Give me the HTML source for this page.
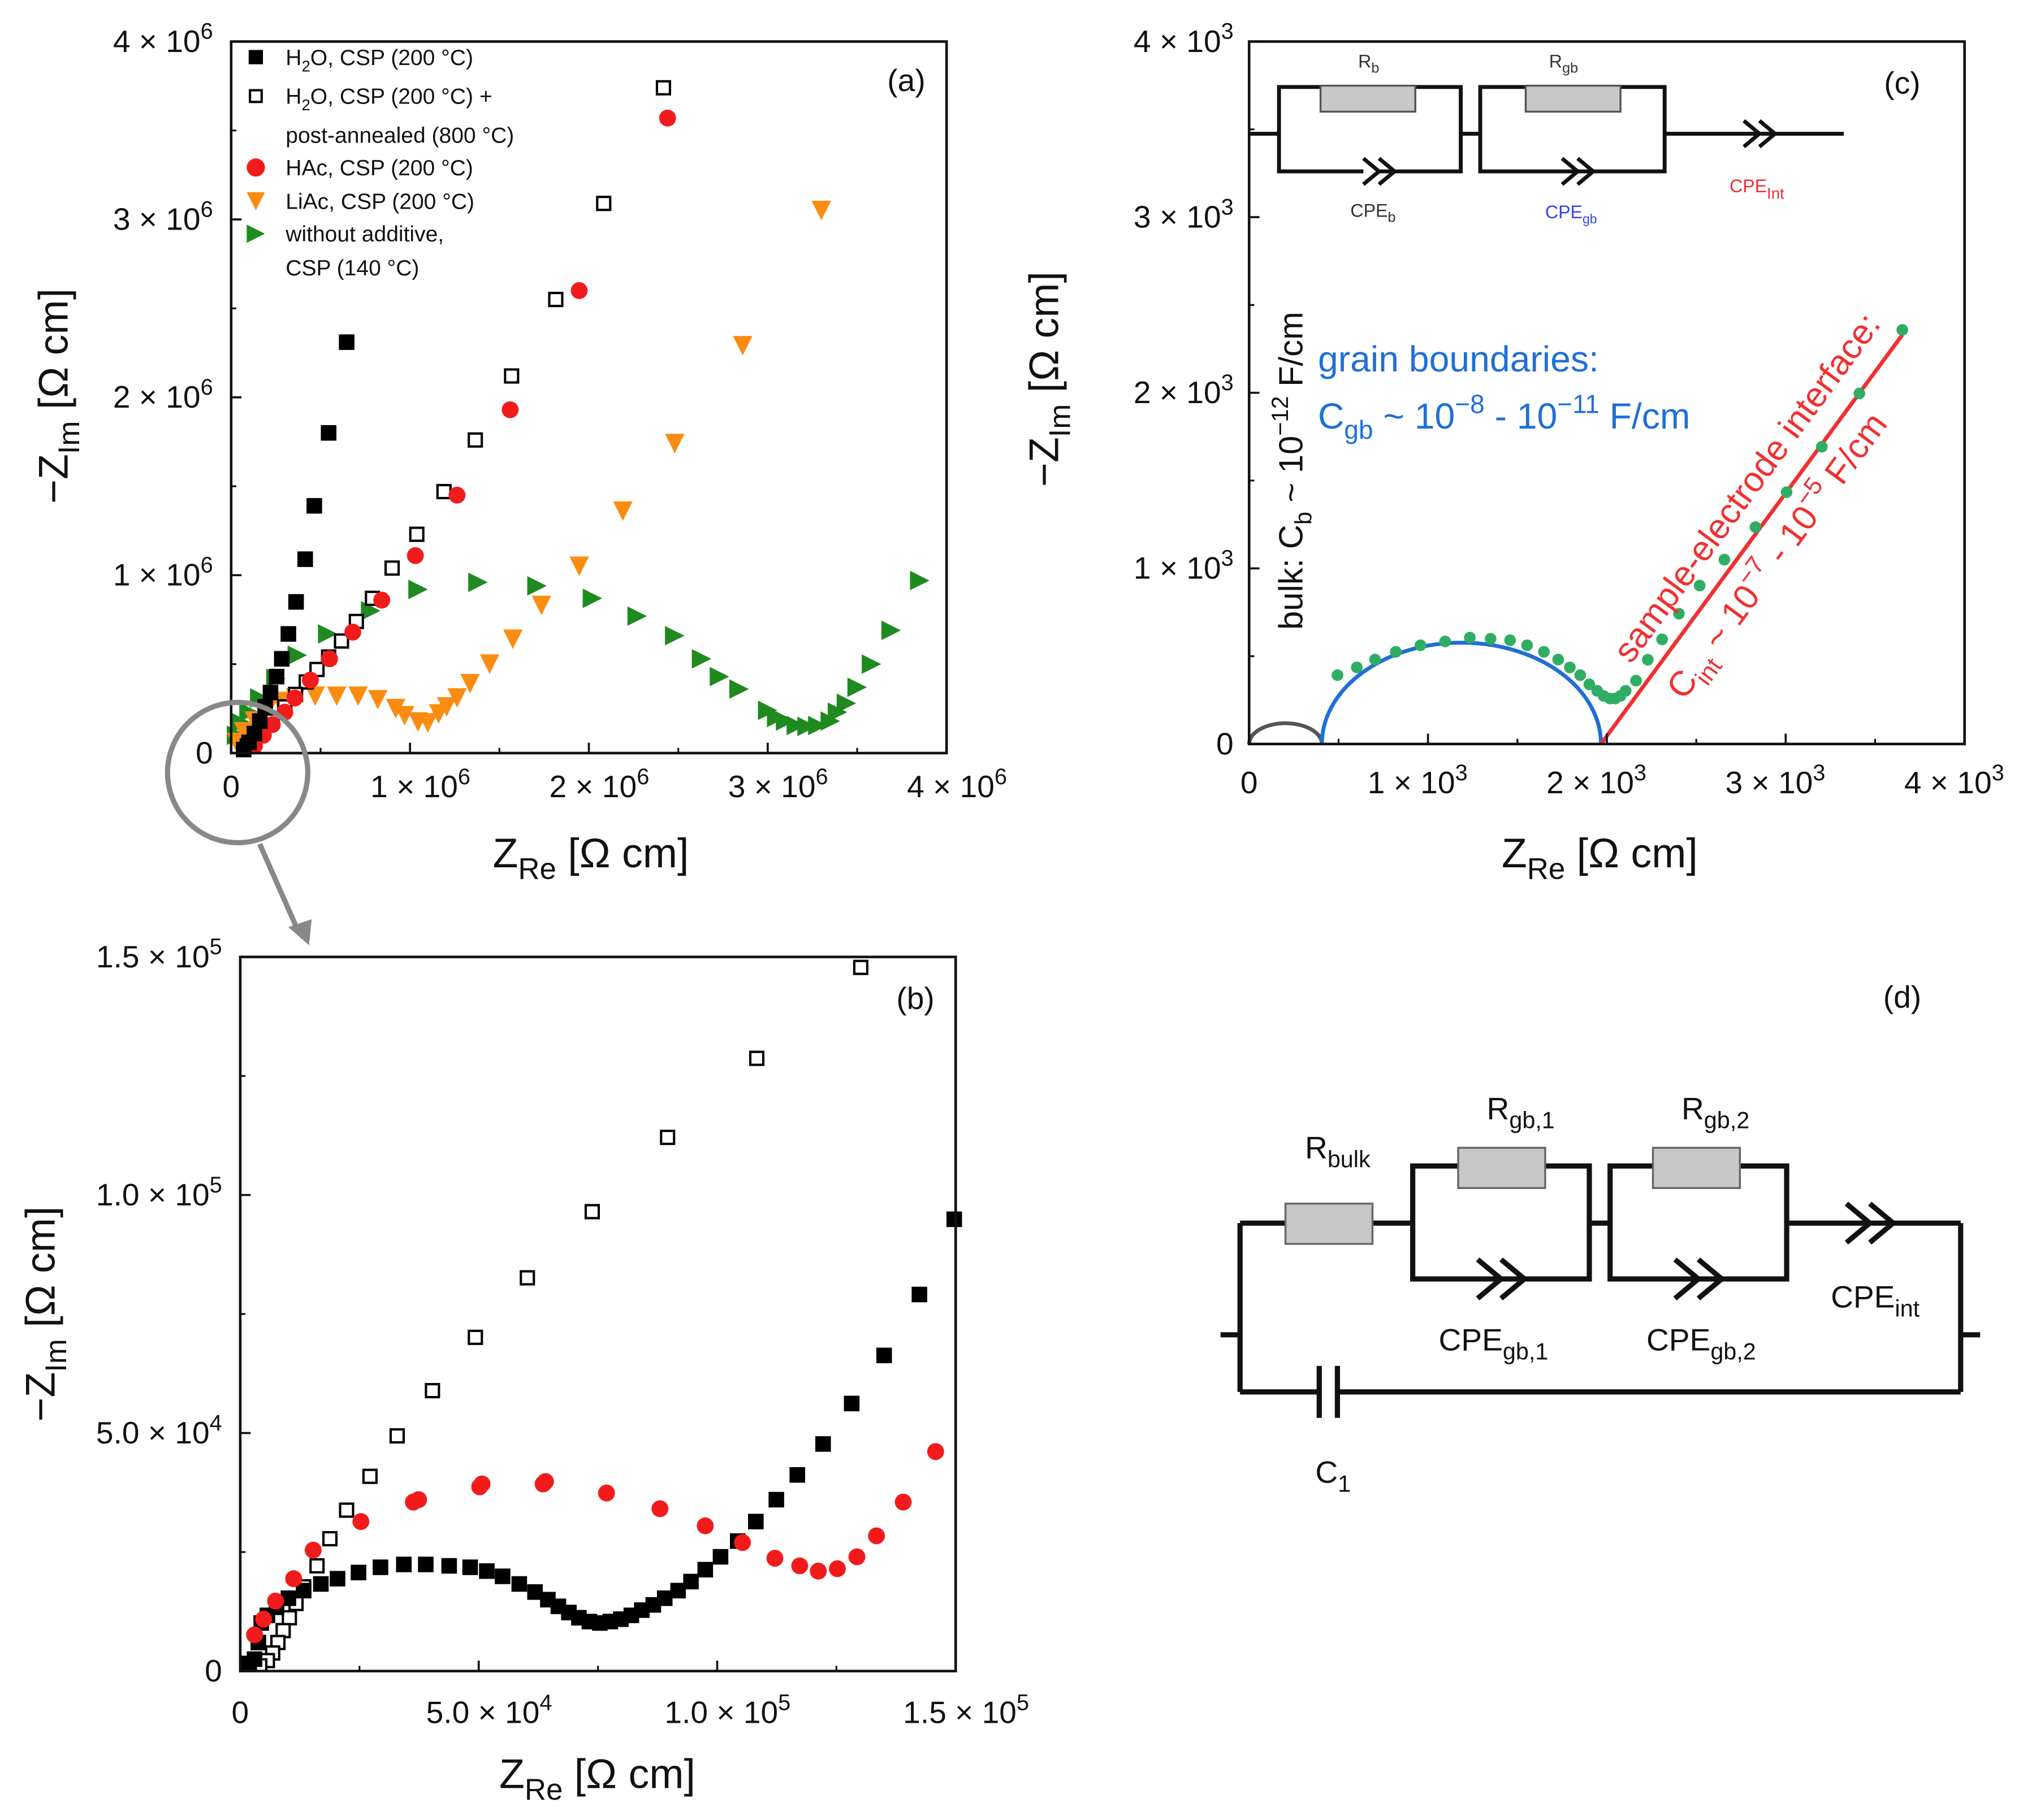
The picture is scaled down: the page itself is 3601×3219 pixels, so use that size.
<!DOCTYPE html>
<html><head><meta charset="utf-8"><style>
html,body{margin:0;padding:0;background:#fff;}
svg{display:block;font-family:"Liberation Sans",Arial,sans-serif;}
</style></head><body>
<svg id="fig" xmlns="http://www.w3.org/2000/svg" width="3601" height="3219" viewBox="0 0 1568 1401.7">
<rect width="1568" height="1401.7" fill="#fff"/>
<g id="root"></g>
</svg>
<script>
// ---------- Panel (a) data (units of 1e6 Ohm cm) ----------
const aH2OX=[0.646,0.545,0.465,0.414,0.363,0.32,0.283,0.254,0.22,0.19,0.16,0.13,0.10,0.07];
const aH2OY=[2.31,1.80,1.39,1.09,0.85,0.67,0.53,0.43,0.34,0.26,0.18,0.11,0.06,0.02];
const aAnnX=[2.417,2.083,1.815,1.568,1.365,1.19,1.038,0.90,0.79,0.70,0.617,0.545,0.48,0.42,0.36,0.30,0.23,0.16,0.09];
const aAnnY=[3.74,3.09,2.55,2.12,1.76,1.47,1.23,1.04,0.87,0.74,0.63,0.54,0.47,0.40,0.33,0.26,0.18,0.10,0.04];
const aHAcX=[2.44,1.946,1.56,1.263,1.03,0.842,0.68,0.55,0.443,0.356,0.30,0.23,0.18,0.13];
const aHAcY=[3.57,2.60,1.93,1.45,1.11,0.86,0.68,0.53,0.41,0.31,0.23,0.16,0.10,0.04];
const aLiAcX=[3.30,2.86,2.48,2.19,1.946,1.735,1.575,1.445,1.336,1.263,1.205,1.16,1.10,1.045,0.97,0.92,0.82,0.71,0.59,0.47,0.36,0.27,0.20,0.13,0.07,0.03];
const aLiAcY=[3.05,2.29,1.74,1.36,1.05,0.83,0.64,0.50,0.39,0.31,0.26,0.22,0.17,0.175,0.21,0.25,0.30,0.32,0.32,0.32,0.31,0.29,0.24,0.18,0.12,0.06];
const aNoAddX=[3.85,3.69,3.58,3.50,3.44,3.39,3.35,3.28,3.22,3.16,3.10,3.05,3.0,2.84,2.73,2.63,2.48,2.27,2.02,1.71,1.38,1.045,0.78,0.54,0.37,0.25,0.16,0.10,0.06,0.03];
const aNoAddY=[0.97,0.69,0.50,0.37,0.28,0.23,0.18,0.155,0.15,0.155,0.18,0.2,0.24,0.36,0.43,0.53,0.66,0.77,0.87,0.94,0.96,0.92,0.80,0.67,0.55,0.42,0.31,0.23,0.17,0.10];
const aTicks=[0,1,2,3,4];
// ---------- Panel (b) data (units of 1e3 Ohm cm) ----------
const bAnnX=[130.1,108.3,89.6,73.8,60.2,49.3,40.3,32.9,27.2,22.3,18.8,16.1,13.3,11.7,10.3,9.0,7.9,6.8,5.7,4.1,1.9];
const bAnnY=[147.8,128.7,112.1,96.5,82.6,70.1,58.9,49.4,40.9,33.8,27.8,22.1,17.7,14.2,11.2,8.5,6.0,3.8,2.2,1.1,0.5];
const bH2OX=[149.7,142.4,135,128.2,122.2,116.8,112.4,108.1,104.3,100.7,97.5,94.5,91.8,89.0,86.6,84.2,82,79.8,77.6,75.4,73.2,71,68.9,66.7,64.5,61.8,58.5,55,51.7,48.2,43.8,38.9,34.3,29.4,24.8,20.4,16.9,13.3,10.1,7.6,5.7,4.4,3.8,3.0,1.4];
const bH2OY=[94.9,79.1,66.3,56.2,47.7,41.2,36.0,31.4,27.3,24.0,21.3,18.8,16.9,15.3,13.9,12.8,11.7,10.9,10.4,10.1,10.4,11.2,12.3,13.6,15.0,16.6,18.3,19.9,21.0,21.8,22.1,22.4,22.4,21.8,20.7,19.4,18.3,16.9,15.3,13.4,11.7,10.1,6.0,2.5,1.6];
const bHAcX=[145.8,139,133.4,129.3,125.2,121.2,117.3,112.1,105.3,97.5,88,76.8,64,63.5,50.7,50.2,37.4,36.3,25.3,15.3,11.2,7.4,4.9,3.0];
const bHAcY=[46.1,35.5,28.4,24.0,21.5,21.0,22.1,23.7,27.0,30.5,34.1,37.4,39.8,39.3,39.3,38.7,36.0,35.5,31.4,25.4,19.4,14.7,10.9,7.6];
const bTicks=[0,50,100,150];
const bTickLabels=["0","5.0 × 10|4","1.0 × 10|5","1.5 × 10|5"];
// ---------- Panel (c) data (Ohm cm) ----------
const cDotX=[494,602,704,820,958,1096,1234,1350,1459,1554,1648,1728,1793,1851,1902,1946,1982,2018,2047,2076,2105,2163,2229,2309,2403,2519,2657,2831,3005,3202,3412,3652];
const cDotY=[392,436,481,525,562,584,606,599,591,562,525,481,436,392,340,303,274,259,259,274,303,361,480,596,742,902,1050,1235,1434,1693,1996,2358];
const cTicks=[0,1000,2000,3000,4000];
const cBulkArc=[0,407,118];
const cGbArc=[407,1967,577];
const cIntLine=[1967,0,3652,2330];

const NS="http://www.w3.org/2000/svg";
const root=document.getElementById('root');
function el(tag,attrs,parent){const e=document.createElementNS(NS,tag);for(const k in attrs)e.setAttribute(k,attrs[k]);(parent||root).appendChild(e);return e;}
function sci(parent,x,y,label,size,anchor){
  const t=el('text',{x:x,y:y,'font-size':size,'text-anchor':anchor,fill:'#111'},parent);
  const p=label.split('|');
  t.appendChild(document.createTextNode(p[0]));
  if(p.length>1){const s=el('tspan',{dy:-size*0.42,'font-size':size*0.72},t);s.textContent=p[1];}
  return t;
}
function axisTitle(parent,x,y,main,sub,rest,rot){
  const t=el('text',{x:x,y:y,'font-size':32,'text-anchor':'middle',fill:'#111',transform:rot?`rotate(-90 ${x} ${y})`:''},parent);
  t.appendChild(document.createTextNode(main));
  const s=el('tspan',{dy:9,'font-size':23},t);s.textContent=sub;
  const r=el('tspan',{dy:-9},t);r.textContent=rest;
  return t;
}
function frame(g,L,R,T,B){el('rect',{x:L,y:T,width:R-L,height:B-T,fill:'none',stroke:'#111','stroke-width':2},g);}
function ticks(g,sx,sy,xt,yt,L,B){
  for(let i=0;i<xt.length;i++){const x=sx(xt[i]);el('line',{x1:x,y1:B,x2:x,y2:B-8,stroke:'#111','stroke-width':1.6},g);
    if(i<xt.length-1){const xm=sx((xt[i]+xt[i+1])/2);el('line',{x1:xm,y1:B,x2:xm,y2:B-4,stroke:'#111','stroke-width':1.4},g);}}
  for(let i=0;i<yt.length;i++){const y=sy(yt[i]);el('line',{x1:L,y1:y,x2:L+8,y2:y,stroke:'#111','stroke-width':1.6},g);
    if(i<yt.length-1){const ym=sy((yt[i]+yt[i+1])/2);el('line',{x1:L,y1:ym,x2:L+4,y2:ym,stroke:'#111','stroke-width':1.4},g);}}
}
function marker(g,type,x,y,s,name){
  let m;
  if(type==='sq')m=el('rect',{x:x-s/2,y:y-s/2,width:s,height:s,fill:'#000'},g);
  else if(type==='osq')m=el('rect',{x:x-s/2+1,y:y-s/2+1,width:s-2,height:s-2,fill:'#fff',stroke:'#000','stroke-width':1.8},g);
  else if(type==='circ')m=el('circle',{cx:x,cy:y,r:s/2,fill:'#f21b1b'},g);
  else if(type==='tdown')m=el('polygon',{points:`${x-s/2},${y-s/2} ${x+s/2},${y-s/2} ${x},${y+s/2}`,fill:'#fb8c12'},g);
  else if(type==='tright')m=el('polygon',{points:`${x-s/2},${y-s/2} ${x-s/2},${y+s/2} ${x+s/2},${y}`,fill:'#1f8a1f'},g);
  else if(type==='gdot')m=el('circle',{cx:x,cy:y,r:s/2,fill:'#2fae63'},g);
  
  
  return m;
}
function series(g,type,xs,ys,sx,sy,s,name){
  const sg=el('g',{},g);
  
  
  for(let i=0;i<xs.length;i++)marker(sg,type,sx(xs[i]),sy(ys[i]),s,name+'-point');
}

// ===== Panel (a) =====
{
const g=el('g',{});
const L=178,R=729,T=32,B=580;
const sx=v=>L+(R-L)*v/4, sy=v=>B-(B-T)*v/4;
series(g,'tright',aNoAddX,aNoAddY,sx,sy,15,'series-without-additive');
series(g,'tdown',aLiAcX,aLiAcY,sx,sy,15,'series-liac');
series(g,'osq',aAnnX,aAnnY,sx,sy,12,'series-h2o-annealed');
series(g,'circ',aHAcX,aHAcY,sx,sy,13,'series-hac');
series(g,'sq',aH2OX,aH2OY,sx,sy,12,'series-h2o');
frame(g,L,R,T,B);ticks(g,sx,sy,aTicks,aTicks,L,B);
for(const v of aTicks){const lab=v===0?'0':v+' × 10|6';
  const yl=sci(g,L-14,sy(v)+8,lab,24,'end');
  const xl=sci(g,sx(v)+(v===0?0:8),B+34,lab,24,'middle');}
const xt=axisTitle(g,455,668,'Z','Re',' [Ω cm]',false);
const yt=axisTitle(g,52,305,'−Z','Im',' [Ω cm]',true);
const pl=el('text',{x:698,y:70,'font-size':24,'text-anchor':'middle',fill:'#111'},g);pl.textContent='(a)';
const lg=el('g',{},g);
const entries=[['sq',44,'H|2|O, CSP (200 °C)'],['osq',74,'H|2|O, CSP (200 °C) +'],[null,104,'post-annealed (800 °C)'],['circ',129,'HAc, CSP (200 °C)'],['tdown',155,'LiAc, CSP (200 °C)'],['tright',180,'without additive,'],[null,206,'CSP (140 °C)']];
for(const e of entries){
  if(e[0])marker(lg,e[0],197,e[1],e[0]==='osq'||e[0]==='sq'?11:14,'legend-marker');
  const t=el('text',{x:220,y:e[1]+6,'font-size':17,fill:'#111'},lg);
  
  const p=e[2].split('|');t.appendChild(document.createTextNode(p[0]));
  if(p.length>1){const s=el('tspan',{dy:5,'font-size':12},t);s.textContent=p[1];const r=el('tspan',{dy:-5},t);r.textContent=p[2];}
}
const mg=el('g',{},g);
el('circle',{cx:183,cy:595,r:54,fill:'none',stroke:'#888','stroke-width':4},mg);
el('line',{x1:200,y1:650,x2:230,y2:718,stroke:'#888','stroke-width':4},mg);
el('polygon',{points:'222,714 238,728 240,708',fill:'#888'},mg);
}

// ===== Panel (b) =====
{
const g=el('g',{});
const L=185,R=736,T=737,B=1287;
const sx=v=>L+(R-L)*v/150, sy=v=>B-(B-T)*v/150;
const cg=el('g',{},g);el('clipPath',{id:'clipb'},cg);
el('rect',{x:L,y:T-10,width:R-L+8,height:B-T+10},document.getElementById('clipb'));
const dg=el('g',{'clip-path':'url(#clipb)'},g);
series(dg,'osq',bAnnX,bAnnY,sx,sy,12,'series-h2o-annealed');
series(dg,'sq',bH2OX,bH2OY,sx,sy,12,'series-h2o');
series(dg,'circ',bHAcX,bHAcY,sx,sy,13,'series-hac');
frame(g,L,R,T,B);ticks(g,sx,sy,bTicks,bTicks,L,B);
for(let i=0;i<bTicks.length;i++){const v=bTicks[i];
  const yl=sci(g,L-14,sy(v)+8,bTickLabels[i],24,'end');
  const xl=sci(g,sx(v)+(v===0?0:8),B+40,bTickLabels[i],24,'middle');}
const xt=axisTitle(g,460,1377,'Z','Re',' [Ω cm]',false);
const yt=axisTitle(g,42,1012,'−Z','Im',' [Ω cm]',true);
const pl=el('text',{x:705,y:777,'font-size':24,'text-anchor':'middle',fill:'#111'},g);pl.textContent='(b)';
}

// ===== Panel (c) =====
{
const g=el('g',{});
const L=962,R=1513,T=32,B=573;
const sx=v=>L+(R-L)*v/4000, sy=v=>B-(B-T)*v/4000;
const a1=el('path',{d:`M${sx(cBulkArc[0])},${B} A${(sx(cBulkArc[1])-sx(cBulkArc[0]))/2},${B-sy(cBulkArc[2])} 0 0 1 ${sx(cBulkArc[1])},${B}`,fill:'none',stroke:'#555','stroke-width':3},g);

const a2=el('path',{d:`M${sx(cGbArc[0])},${B} A${(sx(cGbArc[1])-sx(cGbArc[0]))/2},${B-sy(cGbArc[2])} 0 0 1 ${sx(cGbArc[1])},${B}`,fill:'none',stroke:'#1f6fd6','stroke-width':3},g);

const ln=el('line',{x1:sx(cIntLine[0]),y1:sy(cIntLine[1]),x2:sx(cIntLine[2]),y2:sy(cIntLine[3]),stroke:'#f03030','stroke-width':3},g);

series(g,'gdot',cDotX,cDotY,sx,sy,9,'series-measured');
frame(g,L,R,T,B);ticks(g,sx,sy,cTicks,cTicks,L,B);
for(const v of cTicks){const lab=v===0?'0':(v/1000)+' × 10|3';
  const yl=sci(g,L-12,sy(v)+8,lab,24,'end');
  const xl=sci(g,sx(v)+(v===0?0:-8),B+38,lab,24,'middle');}
const xt=axisTitle(g,1232,668,'Z','Re',' [Ω cm]',false);
const yt=axisTitle(g,815,292,'−Z','Im',' [Ω cm]',true);
const pl=el('text',{x:1465,y:72,'font-size':24,'text-anchor':'middle',fill:'#111'},g);pl.textContent='(c)';
}
</script>
<svg style="position:absolute;left:0;top:0" width="3601" height="3219" viewBox="0 0 1568 1401.7" xmlns="http://www.w3.org/2000/svg" font-family="Liberation Sans, Arial, sans-serif">
<g>
<text transform="rotate(-90 1003 485)" x="1003" y="485" font-size="26" fill="#111">bulk: C<tspan dy="7" font-size="18">b</tspan><tspan dy="-7"> ~ 10</tspan><tspan dy="-11" font-size="18">−12</tspan><tspan dy="11"> F/cm</tspan></text>
</g>
<g fill="#1f6fd6">
<text x="1015" y="286" font-size="28">grain boundaries:</text>
<text x="1015" y="330" font-size="28">C<tspan dy="8" font-size="20">gb</tspan><tspan dy="-8"> ~ 10</tspan><tspan dy="-12" font-size="20">−8</tspan><tspan dy="12"> - 10</tspan><tspan dy="-12" font-size="20">−11</tspan><tspan dy="12"> F/cm</tspan></text>
</g>
<g fill="#f03030">
<text transform="translate(1256 512) rotate(-53.6)" font-size="27">sample-electrode interface:</text>
<text transform="translate(1297 540) rotate(-53.6)" font-size="27">C<tspan dy="8" font-size="19">int</tspan><tspan dy="-8"> ~ 10</tspan><tspan dy="-12" font-size="19">−7</tspan><tspan dy="12"> - 10</tspan><tspan dy="-12" font-size="19">−5</tspan><tspan dy="12"> F/cm</tspan></text>
</g>
<g stroke="#111" stroke-width="3" fill="none">
<line x1="962" y1="103" x2="985" y2="103"/>
<rect x="985" y="67" width="140" height="65"/>
<line x1="1125" y1="103" x2="1140" y2="103"/>
<rect x="1140" y="67" width="142" height="65"/>
<line x1="1282" y1="103" x2="1420" y2="103"/>
<rect x="1017" y="66" width="73" height="20" fill="#c8c8c8" stroke="#555" stroke-width="1.5"/>
<rect x="1175" y="66" width="73" height="20" fill="#c8c8c8" stroke="#555" stroke-width="1.5"/>
<polyline points="1050,122 1062,132 1050,142" fill="#fff"/><polyline points="1062,122 1074,132 1062,142"/>
<polyline points="1203,122 1215,132 1203,142"/><polyline points="1215,122 1227,132 1215,142"/>
<polyline points="1343,93 1355,103 1343,113"/><polyline points="1355,93 1367,103 1355,113"/>
</g>
<g font-size="14">
<text x="1046" y="52" fill="#333">R<tspan dy="4" font-size="11">b</tspan></text>
<text x="1193" y="52" fill="#333">R<tspan dy="4" font-size="11">gb</tspan></text>
<text x="1040" y="167" fill="#333">CPE<tspan dy="4" font-size="11">b</tspan></text>
<text x="1190" y="168" fill="#3344ee">CPE<tspan dy="4" font-size="10">gb</tspan></text>
<text x="1332" y="148" fill="#f03030">CPE<tspan dy="5" font-size="12">Int</tspan></text>
</g>
<g>
<text x="1465" y="776" font-size="24" text-anchor="middle" fill="#111">(d)</text>
<g stroke="#111" stroke-width="4" fill="none">
<line x1="940" y1="1028" x2="955" y2="1028"/>
<line x1="1510" y1="1028" x2="1525" y2="1028"/>
<line x1="955" y1="942" x2="955" y2="1072"/>
<line x1="1510" y1="942" x2="1510" y2="1072"/>
<line x1="955" y1="942" x2="1088" y2="942"/>
<rect x="1088" y="898" width="136" height="87"/>
<line x1="1224" y1="942" x2="1240" y2="942"/>
<rect x="1240" y="898" width="136" height="87"/>
<line x1="1376" y1="942" x2="1510" y2="942"/>
<line x1="955" y1="1072" x2="1016" y2="1072"/>
<line x1="1030" y1="1072" x2="1510" y2="1072"/>
<line x1="1016" y1="1052" x2="1016" y2="1092"/>
<line x1="1030" y1="1052" x2="1030" y2="1092"/>
<polyline points="1138,970 1156,985 1138,1000"/><polyline points="1156,970 1174,985 1156,1000"/>
<polyline points="1290,970 1308,985 1290,1000"/><polyline points="1308,970 1326,985 1308,1000"/>
<polyline points="1422,927 1440,942 1422,957"/><polyline points="1440,927 1458,942 1440,957"/>
<rect x="990" y="927" width="67" height="31" fill="#c8c8c8" stroke="#666" stroke-width="1.5"/>
<rect x="1123" y="884" width="67" height="31" fill="#c8c8c8" stroke="#666" stroke-width="1.5"/>
<rect x="1273" y="884" width="67" height="31" fill="#c8c8c8" stroke="#666" stroke-width="1.5"/>
</g>
<g font-size="24" fill="#111">
<text x="1005" y="892">R<tspan dy="7" font-size="18">bulk</tspan></text>
<text x="1145" y="862">R<tspan dy="7" font-size="18">gb,1</tspan></text>
<text x="1295" y="862">R<tspan dy="7" font-size="18">gb,2</tspan></text>
<text x="1108" y="1040">CPE<tspan dy="7" font-size="18">gb,1</tspan></text>
<text x="1268" y="1040">CPE<tspan dy="7" font-size="18">gb,2</tspan></text>
<text x="1410" y="1007">CPE<tspan dy="7" font-size="18">int</tspan></text>
<text x="1013" y="1142">C<tspan dy="7" font-size="18">1</tspan></text>
</g>
</g>
</svg>
</body></html>
